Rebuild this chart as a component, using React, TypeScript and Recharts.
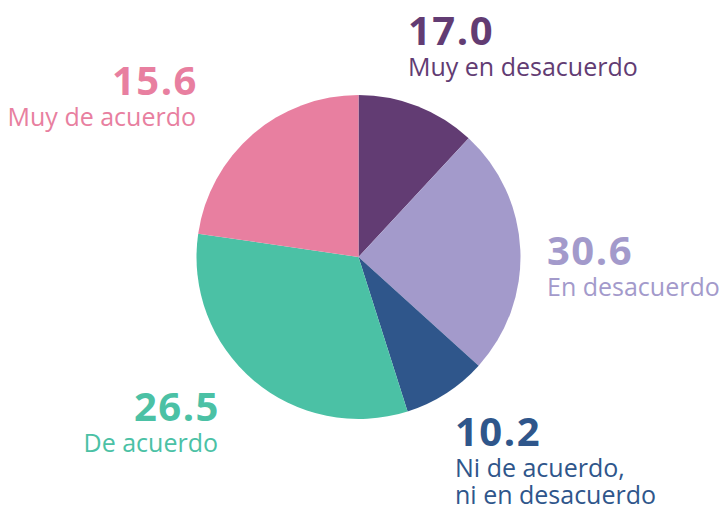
import React from "react";
import { PieChart, Pie, Cell } from "recharts";

// Category names, as printed
const categories = [
  "Muy en desacuerdo",
  "En desacuerdo",
  "Ni de acuerdo, ni en desacuerdo",
  "De acuerdo",
  "Muy de acuerdo",
];
// Printed values (labels)
const printedValues = [17.0, 30.6, 10.2, 26.5, 15.6];
// Slice shares as drawn in the picture (degrees, as %)
const sliceShares = [11.9, 24.8, 8.4, 32.2, 22.7];
// Label text lines
const labelLines = [
  ["Muy en desacuerdo"],
  ["En desacuerdo"],
  ["Ni de acuerdo,", "ni en desacuerdo"],
  ["De acuerdo"],
  ["Muy de acuerdo"],
];

const colors = ["#623C73", "#A39ACB", "#2F568B", "#4BC1A5", "#E87FA0"];
const labelLayout = [
  { x: 408, y: 45, anchor: "start" },
  { x: 547, y: 265, anchor: "start" },
  { x: 455, y: 446, anchor: "start" },
  { x: 218, y: 421, anchor: "end" },
  { x: 196, y: 95, anchor: "end" },
];

const data = categories.map((name, i) => ({
  name,
  value: sliceShares[i],
  printed: printedValues[i],
  lines: labelLines[i],
}));

const FONT = "'Open Sans', 'Noto Sans', sans-serif";

const renderLabel = (props: any) => {
  const i = props.index;
  const l = labelLayout[i];
  const d = data[i];
  const numX = l.anchor === "end" ? l.x + 2 : l.x;
  return (
    <g key={`lbl-${i}`}>
      <text
        x={numX}
        y={l.y}
        textAnchor={l.anchor as any}
        fill={colors[i]}
        fontFamily={FONT}
        fontWeight={700}
        fontSize={40}
        letterSpacing={1.5}
      >
        {d.printed.toFixed(1)}
      </text>
      {d.lines.map((line: string, j: number) => (
        <text
          key={j}
          x={l.x}
          y={l.y + 31 + j * 27}
          textAnchor={l.anchor as any}
          fill={colors[i]}
          fontFamily={FONT}
          fontWeight={400}
          fontSize={25}
        >
          {line}
        </text>
      ))}
    </g>
  );
};

export default function App() {
  return (
    <div style={{ position: "absolute", left: 0, top: 0, width: 721, height: 513, background: "#fff" }}>
      <PieChart width={721} height={513} margin={{ top: 0, right: 0, bottom: 0, left: 0 }}>
        <Pie
          data={data}
          dataKey="value"
          nameKey="name"
          cx={358.5}
          cy={257}
          outerRadius={162}
          innerRadius={0}
          startAngle={90}
          endAngle={-270}
          stroke="none"
          label={renderLabel}
          labelLine={false}
          isAnimationActive={false}
        >
          {data.map((_, i) => (
            <Cell key={i} fill={colors[i]} />
          ))}
        </Pie>
      </PieChart>
    </div>
  );
}
